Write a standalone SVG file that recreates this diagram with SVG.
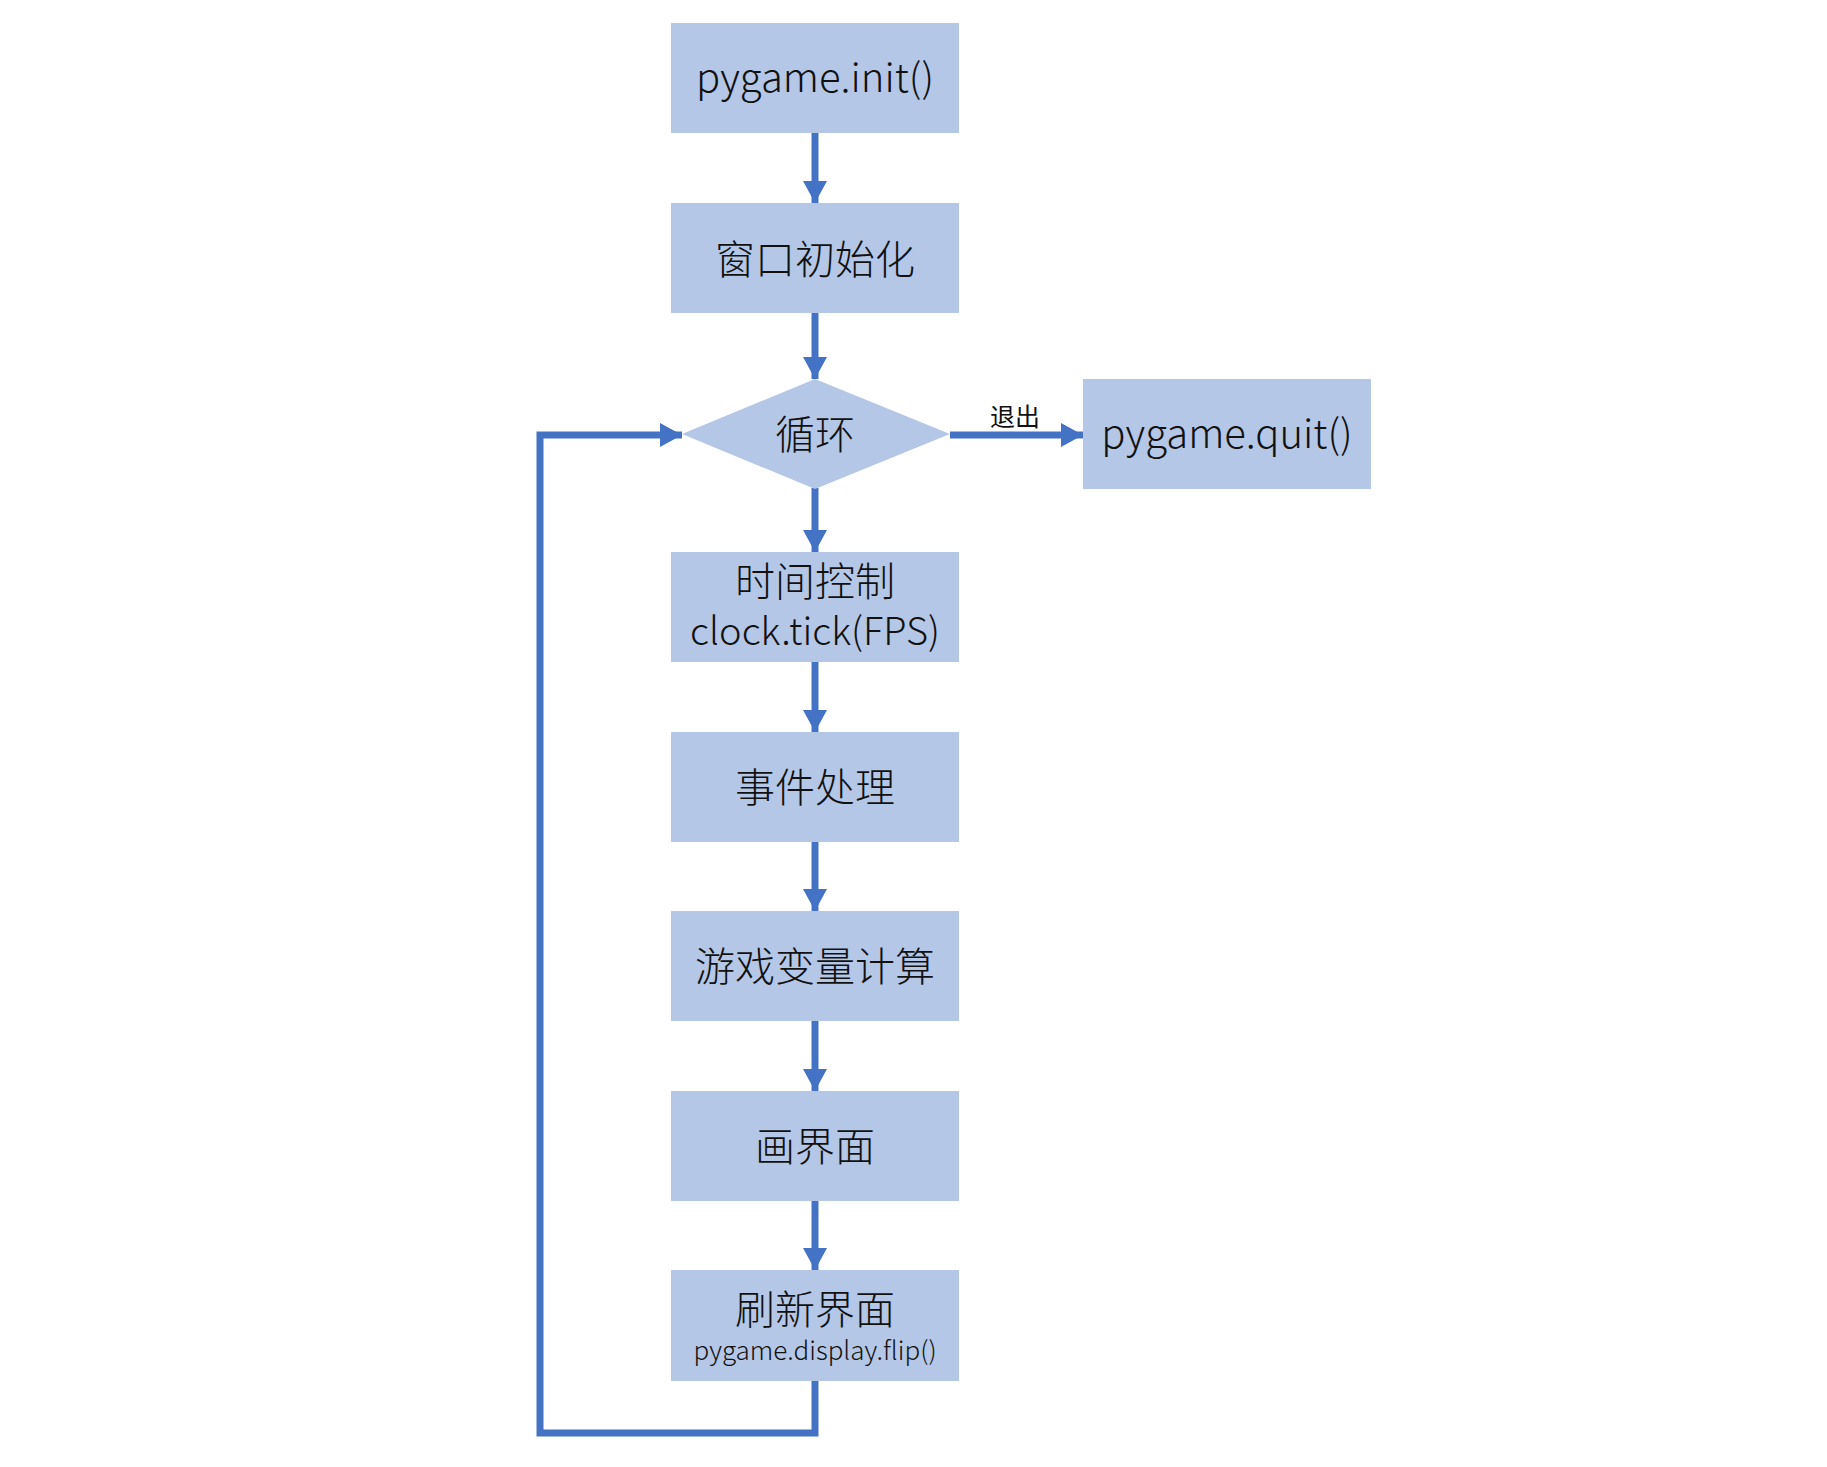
<svg xmlns="http://www.w3.org/2000/svg" width="1827" height="1467" viewBox="0 0 1827 1467">
<style>
.box{fill:#B4C7E7;}
.t{font-family:"Noto Sans CJK SC","Microsoft YaHei",sans-serif;font-weight:300;font-size:40px;fill:#111;text-anchor:middle;}
.m{font-size:38px;}
.s{font-size:26px;}
.lbl{font-family:"Noto Sans CJK SC",sans-serif;font-size:25px;fill:#111;text-anchor:middle;}
.ln{fill:none;stroke:#4472C4;stroke-width:7;}
</style>
<defs>
<marker id="ah" markerUnits="userSpaceOnUse" markerWidth="22" markerHeight="24" viewBox="0 0 22 24" refX="22" refY="12" orient="auto">
<path d="M0,0 L22,12 L0,24 Z" fill="#4472C4"/>
</marker>
</defs>
<rect width="1827" height="1467" fill="#fff"/>
<g id="connectors">
<path class="ln" d="M815,133 V203" marker-end="url(#ah)"/>
<path class="ln" d="M815,313 V379" marker-end="url(#ah)"/>
<path class="ln" d="M815,488 V552" marker-end="url(#ah)"/>
<path class="ln" d="M815,662 V732" marker-end="url(#ah)"/>
<path class="ln" d="M815,842 V911" marker-end="url(#ah)"/>
<path class="ln" d="M815,1021 V1091" marker-end="url(#ah)"/>
<path class="ln" d="M815,1201 V1270" marker-end="url(#ah)"/>
<path class="ln" d="M950,435 H1083" marker-end="url(#ah)"/>
<path class="ln" d="M815,1381 V1433 H540 V435 H682" marker-end="url(#ah)"/>
<text class="lbl" x="1015" y="426">退出</text>
</g>
<g id="n-init"><rect class="box" x="671" y="23" width="288" height="110"/><text class="t" x="815" y="92">pygame.init()</text></g>
<g id="n-window"><rect class="box" x="671" y="203" width="288" height="110"/><text class="t" x="815" y="274">窗口初始化</text></g>
<g id="n-loop"><polygon class="box" points="682,434 815,379 950,434 815,489"/><text class="t" x="815" y="449">循环</text></g>
<g id="n-quit"><rect class="box" x="1083" y="379" width="288" height="110"/><text class="t" x="1227" y="448">pygame.quit()</text></g>
<g id="n-tick"><rect class="box" x="671" y="552" width="288" height="110"/><text class="t" x="815" y="596">时间控制</text><text class="t m" x="815" y="645">clock.tick(FPS)</text></g>
<g id="n-event"><rect class="box" x="671" y="732" width="288" height="110"/><text class="t" x="815" y="802">事件处理</text></g>
<g id="n-calc"><rect class="box" x="671" y="911" width="288" height="110"/><text class="t" x="815" y="981">游戏变量计算</text></g>
<g id="n-draw"><rect class="box" x="671" y="1091" width="288" height="110"/><text class="t" x="815" y="1161">画界面</text></g>
<g id="n-flip"><rect class="box" x="671" y="1270" width="288" height="111"/><text class="t" x="815" y="1324">刷新界面</text><text class="t s" x="815" y="1360">pygame.display.flip()</text></g>
</svg>
